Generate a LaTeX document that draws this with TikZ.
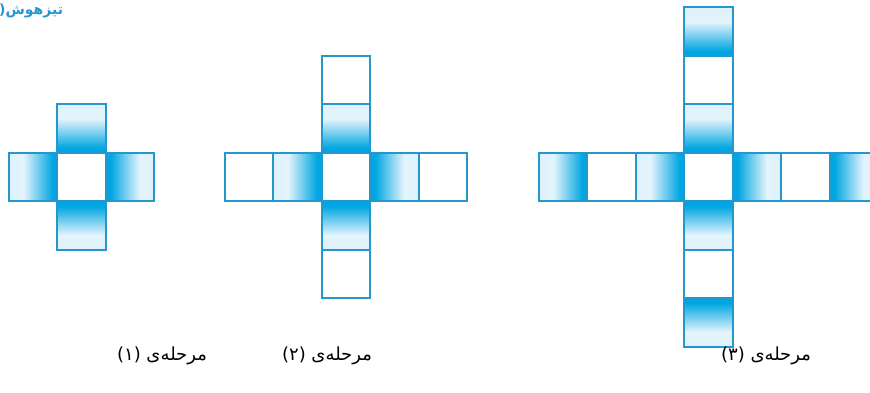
\documentclass[tikz,border=0pt]{standalone}
\usepackage{fontspec}
\newfontfamily\farsi[Script=Arabic]{DejaVu Sans}
\TeXXeTstate=1
\usetikzlibrary{positioning}

\definecolor{cellline}{RGB}{36,152,204}
\definecolor{celldark}{RGB}{0,166,226}
\definecolor{celllight}{RGB}{222,241,251}
\definecolor{titleblue}{RGB}{38,150,208}

% dark edge at the bottom, fading upwards
\pgfdeclareverticalshading{armshade}{100bp}{color(0bp)=(celldark); color(25bp)=(celldark);
  color(30bp)=(celldark); color(43bp)=(celldark!55!celllight); color(60bp)=(celllight!80!white);
  color(75bp)=(celllight); color(100bp)=(celllight)}

\begin{document}
\begin{tikzpicture}[
  x=1pt, y=1pt, every node/.style={inner sep=0pt},
  cell/.style={draw=cellline, line width=1.6pt, minimum size=48.5pt,
               outer sep=0pt, fill=white},
  shN/.style={cell, shading=armshade, shading angle=0},
  shS/.style={cell, shading=armshade, shading angle=180},
  shW/.style={cell, shading=armshade, shading angle=90},
  shE/.style={cell, shading=armshade, shading angle=270},
  stage/.style={font=\farsi\fontsize{18}{21}\selectfont}
]
  \useasboundingbox (0,0) rectangle (870,392);
  \clip (0,0) rectangle (870,392);

  \node[font=\farsi\bfseries\fontsize{14}{16}\selectfont, text=titleblue,
        anchor=west] (title) at (-1,381) {(\beginR تیزهوش\endR};

  % stage 1
  \node[cell] (c1) at (81.5,215) {};
  \node[shN, above=0pt of c1] (c1n1) {};
  \node[shS, below=0pt of c1] (c1s1) {};
  \node[shW, left=0pt of c1] (c1w1) {};
  \node[shE, right=0pt of c1] (c1e1) {};

  % stage 2
  \node[cell] (c2) at (346,215) {};
  \foreach \i/\d/\a/\b/\l/\r in {1/0pt/shN/shS/shW/shE, 2/48.5pt/cell/cell/cell/cell} {
    \node[\a, above=\d of c2] (c2n\i) {};
    \node[\b, below=\d of c2] (c2s\i) {};
    \node[\l, left=\d of c2] (c2w\i) {};
    \node[\r, right=\d of c2] (c2e\i) {};
  }

  % stage 3
  \node[cell] (c3) at (708.5,215) {};
  \foreach \i/\d/\a/\b/\l/\r in {1/0pt/shN/shS/shW/shE, 2/48.5pt/cell/cell/cell/cell,
                                  3/97pt/shN/shS/shW/shE} {
    \node[\a, above=\d of c3] (c3n\i) {};
    \node[\b, below=\d of c3] (c3s\i) {};
    \node[\l, left=\d of c3] (c3w\i) {};
    \node[\r, right=\d of c3] (c3e\i) {};
  }

  \node[stage] (lab1) at (162,36) {(۱)~\beginR مرحله‌ی\endR};
  \node[stage] (lab2) at (327,36) {(۲)~\beginR مرحله‌ی\endR};
  \node[stage] (lab3) at (766,36) {(۳)~\beginR مرحله‌ی\endR};
\end{tikzpicture}
\end{document}
